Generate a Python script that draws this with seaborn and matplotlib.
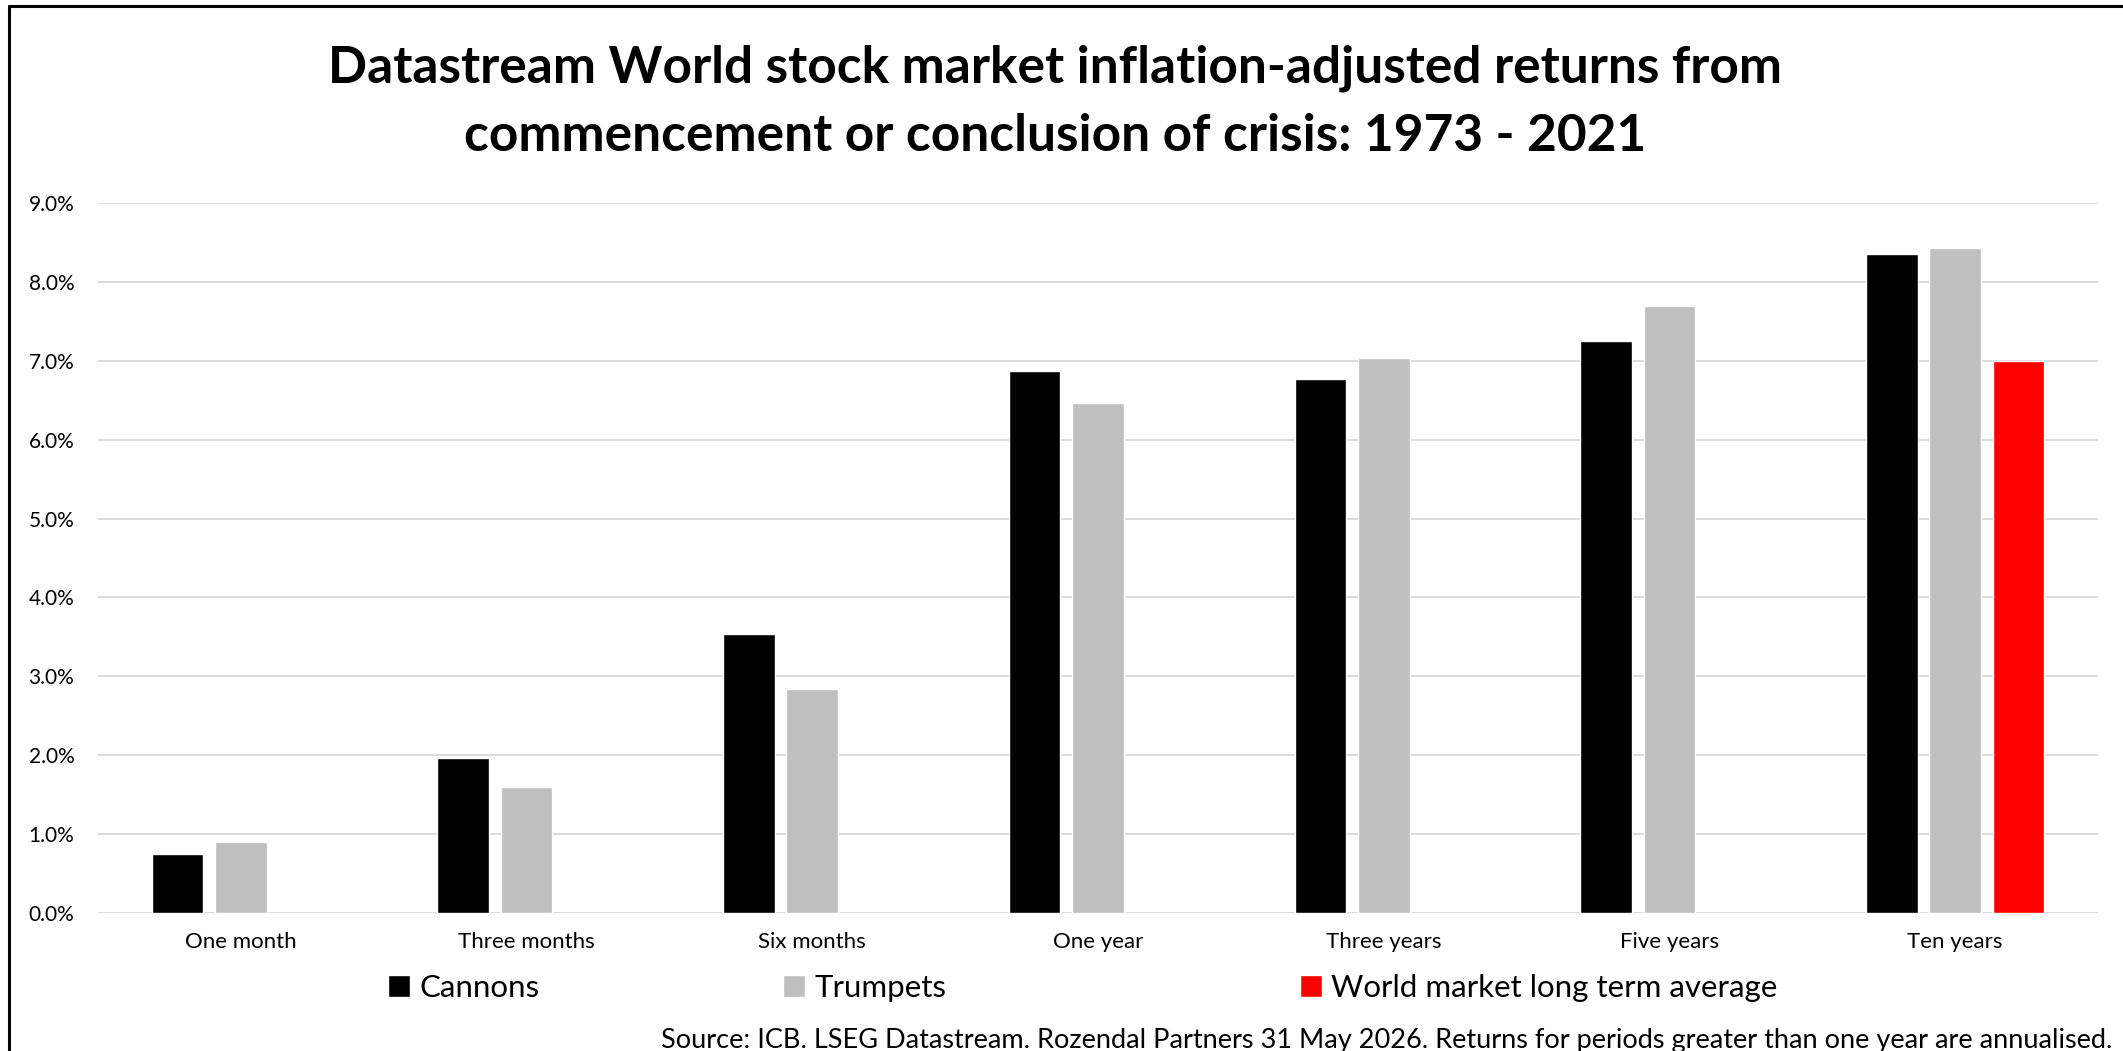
import numpy as np
import pandas as pd
import matplotlib
matplotlib.use("Agg")
import matplotlib.pyplot as plt
from matplotlib.patches import Patch
from matplotlib.lines import Line2D
from matplotlib.ticker import PercentFormatter
import seaborn as sns

# datos (rendimientos reales, %)
periodos = ["One month", "Three months", "Six months", "One year",
            "Three years", "Five years", "Ten years"]
series = ["Cannons", "Trumpets", "World market long term average"]
cannons = [0.75, 1.96, 3.54, 6.87, 6.77, 7.25, 8.35]
trumpets = [0.90, 1.60, 2.84, 6.46, 7.03, 7.70, 8.43]
world_avg = [np.nan, np.nan, np.nan, np.nan, np.nan, np.nan, 7.00]
colores = ["#000000", "#bfbfbf", "#ff0000"]

titulo = ("Datastream World stock market inflation-adjusted returns from\n"
          "commencement or conclusion of crisis: 1973 - 2021")
fuente = ("Source: ICB. LSEG Datastream. Rozendal Partners 31 May 2026. "
          "Returns for periods greater than one year are annualised.")

df = pd.DataFrame({
    "periodo": periodos * 3,
    "serie": np.repeat(series, len(periodos)),
    "valor": cannons + trumpets + world_avg,
})

sns.set_theme(style="white")
plt.rcParams["font.family"] = ["Lato", "DejaVu Sans"]
plt.rcParams["text.color"] = "black"
plt.rcParams["xtick.color"] = "black"
plt.rcParams["ytick.color"] = "black"

W, H = 2123, 1051
fig = plt.figure(figsize=(W / 100, H / 100), dpi=100)
ax = fig.add_axes([98 / W, 1 - 913 / H, 2000 / W, 710 / H])

sns.barplot(data=df, x="periodo", y="valor", hue="serie", order=periodos,
            hue_order=series, palette=colores, saturation=1, width=0.665,
            gap=0.185, dodge=True, legend=False, ax=ax, errorbar=None)

ax.set_ylim(0, 9)
ax.set_yticks(np.arange(0, 10, 1))
ax.yaxis.set_major_formatter(PercentFormatter(decimals=1))
ax.grid(axis="y", color="#d9d9d9", lw=1.3)
ax.set_axisbelow(True)
for s in ax.spines.values():
    s.set_visible(False)
ax.set_xlabel("")
ax.set_ylabel("")
ax.tick_params(axis="y", length=0, pad=17, labelsize=15)
ax.tick_params(axis="x", length=0, pad=14, labelsize=16)

fig.text(0.497, 1 - 102 / H, titulo, ha="center", va="center",
         fontsize=37, fontweight="bold", linespacing=1.55)

# leyenda: tres entradas separadas como en Excel
for nombre, color, xpos in zip(series, colores, [388, 783, 1300]):
    fig.legend(handles=[Patch(facecolor=color, label=nombre)],
               loc="center left", bbox_to_anchor=(xpos / W, 1 - 988 / H),
               frameon=False, fontsize=22.5, handlelength=0.7,
               handleheight=0.7, handletextpad=0.3,
               borderpad=0, borderaxespad=0)

fig.text(2112 / W, 3 / H, fuente, ha="right", va="baseline", fontsize=19.5)

# marco del grafico
fig.add_artist(Line2D([9 / W, 9 / W], [0, 1 - 6 / H], color="black", lw=2.2))
fig.add_artist(Line2D([9 / W, 1], [1 - 6 / H, 1 - 6 / H], color="black", lw=2.2))

plt.savefig("out.png", dpi=100)
plt.close()
